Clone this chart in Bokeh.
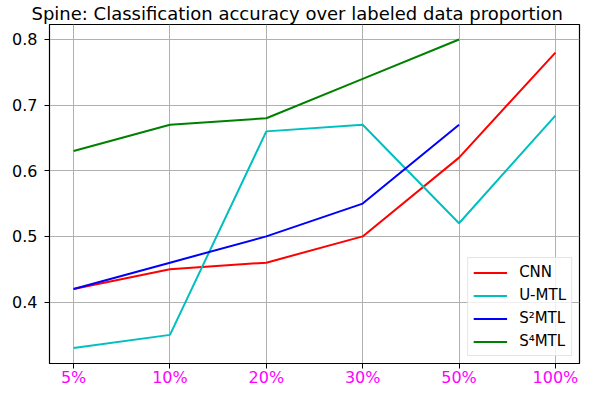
from bokeh.plotting import figure
from bokeh.models import FixedTicker, Range1d, Legend, LegendItem
from bokeh.embed import file_html
from bokeh.resources import INLINE

categories = ["5%", "10%", "20%", "30%", "50%", "100%"]
cnn = [0.42, 0.45, 0.46, 0.50, 0.62, 0.78]
umtl = [0.33, 0.35, 0.66, 0.67, 0.52, 0.684]
s2mtl = [0.42, 0.46, 0.50, 0.55, 0.67]
s4mtl = [0.63, 0.67, 0.68, 0.74, 0.80]
y_ticks = [0.4, 0.5, 0.6, 0.7, 0.8]

series = [
    ("CNN", cnn, "#ff0000"),
    ("U-MTL", umtl, "#00bfbf"),
    ("S\u00b2MTL", s2mtl, "#0000ff"),
    ("S\u2074MTL", s4mtl, "#008000"),
]

p = figure(width=582, height=389, output_backend="svg", toolbar_location=None,
           x_range=Range1d(-0.25, 5.25), y_range=Range1d(0.3064, 0.8228),
           min_border_left=49, min_border_right=3, min_border_bottom=19, min_border_top=0)

p.title.text = "Spine: Classification accuracy over labeled data proportion"
p.title.align = "left"
p.title.text_font = "DejaVu Sans"
p.title.text_font_size = "18px"
p.title.text_font_style = "normal"
p.title.text_color = "black"
p.title.offset = -18
p.title.standoff = 1

p.outline_line_color = "black"
p.outline_line_width = 1.2

items = []
for name, vals, col in series:
    xs = list(range(len(vals)))
    r = p.line(xs, vals, line_color=col, line_width=2)
    items.append(LegendItem(label=name, renderers=[r]))

legend = Legend(items=items, location="bottom_right")
legend.label_text_font = "DejaVu Sans"
legend.label_text_font_size = "15px"
legend.label_text_color = "black"
legend.glyph_width = 34
legend.glyph_height = 17
legend.spacing = 5
legend.label_standoff = 12
legend.padding = 5
legend.margin = 7
legend.border_line_color = "#cccccc"
legend.background_fill_alpha = 0.8
p.add_layout(legend)

p.xaxis.ticker = FixedTicker(ticks=list(range(len(categories))))
p.xaxis.major_label_overrides = {i: c for i, c in enumerate(categories)}
p.xaxis.major_label_text_color = "#ff00ff"
p.xaxis.major_label_standoff = -1
p.yaxis.ticker = FixedTicker(ticks=y_ticks)
p.yaxis.major_label_overrides = {t: f"{t:.1f}" for t in y_ticks}
p.yaxis.major_label_text_color = "black"
p.yaxis.major_label_standoff = 7
for ax in (p.xaxis, p.yaxis):
    ax.major_label_text_font = "DejaVu Sans"
    ax.major_label_text_font_size = "16px"
    ax.minor_tick_line_color = None
    ax.major_tick_out = 5
    ax.major_tick_in = 0
    ax.axis_line_color = "black"
    ax.major_tick_line_color = "black"

p.xgrid.ticker = p.xaxis.ticker
p.ygrid.ticker = p.yaxis.ticker
p.grid.grid_line_color = "#b0b0b0"
p.grid.grid_line_width = 1

open("out.html", "w").write(file_html(p, INLINE))
